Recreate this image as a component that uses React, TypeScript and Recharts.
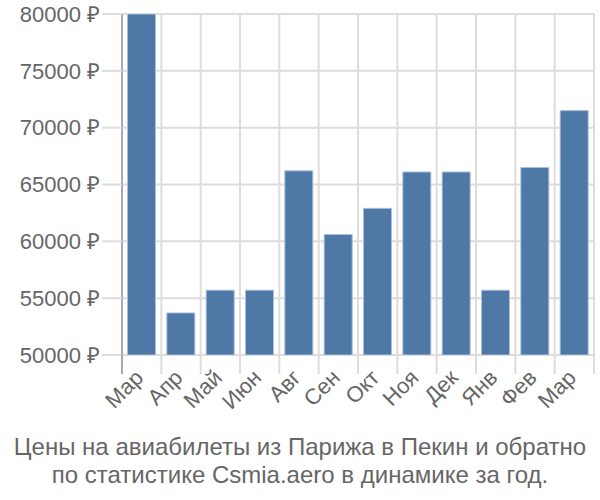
import React from "react";
import { BarChart, Bar, XAxis, YAxis, CartesianGrid } from "recharts";

const months = ["Мар", "Апр", "Май", "Июн", "Авг", "Сен", "Окт", "Ноя", "Дек", "Янв", "Фев", "Мар"];
const prices = [80000, 53700, 55700, 55700, 66200, 60600, 62900, 66100, 66100, 55700, 66500, 71500];
const yTicks = [50000, 55000, 60000, 65000, 70000, 75000, 80000];
const titleLines = [
  "Цены на авиабилеты из Парижа в Пекин и обратно",
  "по статистике Csmia.aero в динамике за год.",
];

const data = months.map((m, i) => ({ key: i, month: m, price: prices[i] }));

const W = 600;
const H = 430;
const MARGIN = { top: 14, right: 6, left: 0, bottom: 0 };
const Y_WIDTH = 122;
const PLOT_W = W - Y_WIDTH - MARGIN.right;
const BAND = PLOT_W / months.length;
const FONT = "'Liberation Sans', Arial, sans-serif";

const XTick = (props: any) => {
  const { x, y, index } = props;
  const left = x - BAND / 2;
  const right = x + BAND / 2;
  const tx = x + 3;
  const ty = y + 3;
  return (
    <g>
      <line x1={left} x2={left} y1={y - 21} y2={y - 2} stroke={index === 0 ? "#aaa" : "#ddd"} strokeWidth={2} />
      {index === months.length - 1 && (
        <line x1={right} x2={right} y1={y - 21} y2={y - 2} stroke="#ddd" strokeWidth={2} />
      )}
      <text
        x={tx}
        y={ty}
        textAnchor="end"
        fill="#666"
        fontSize={22}
        fontFamily={FONT}
        transform={`rotate(-45 ${tx} ${ty})`}
      >
        {months[index]}
      </text>
    </g>
  );
};

const yFmt = (v: number) => `${v} ₽`;

export default function App() {
  return (
    <div style={{ position: "absolute", left: 0, top: 0, width: W, height: 500, background: "#fff", fontFamily: FONT }}>
      <BarChart width={W} height={H} data={data} margin={MARGIN} barCategoryGap="14%">
        <CartesianGrid
          stroke="#ddd"
          strokeWidth={2}
          verticalCoordinatesGenerator={({ offset }: any) =>
            months.map((_, i) => offset.left + i * (offset.width / months.length)).concat([offset.left + offset.width])
          }
        />
        <XAxis
          dataKey="key"
          type="category"
          height={H - 355}
          tickLine={false}
          axisLine={false}
          tickSize={19}
          tickMargin={2}
          interval={0}
          tick={<XTick />}
        />
        <YAxis
          type="number"
          domain={[50000, 80000]}
          ticks={yTicks}
          width={Y_WIDTH}
          tickFormatter={yFmt}
          tickSize={20}
          tickMargin={2}
          tickLine={{ stroke: "#ddd", strokeWidth: 2 }}
          axisLine={{ stroke: "#aaa", strokeWidth: 2 }}
          tick={{ fill: "#666", fontSize: 22, fontFamily: FONT }}
          interval={0}
          allowDataOverflow
        />
        <Bar dataKey="price" fill="#4e79a7" stroke="#a9bfdb" strokeWidth={1} isAnimationActive={false} />
      </BarChart>
      <div
        style={{
          position: "absolute",
          left: 0,
          top: 433,
          width: W,
          textAlign: "center",
          color: "#666",
          fontSize: 24,
          lineHeight: "28px",
        }}
      >
        {titleLines.map((l, i) => (
          <div key={i}>{l}</div>
        ))}
      </div>
    </div>
  );
}
